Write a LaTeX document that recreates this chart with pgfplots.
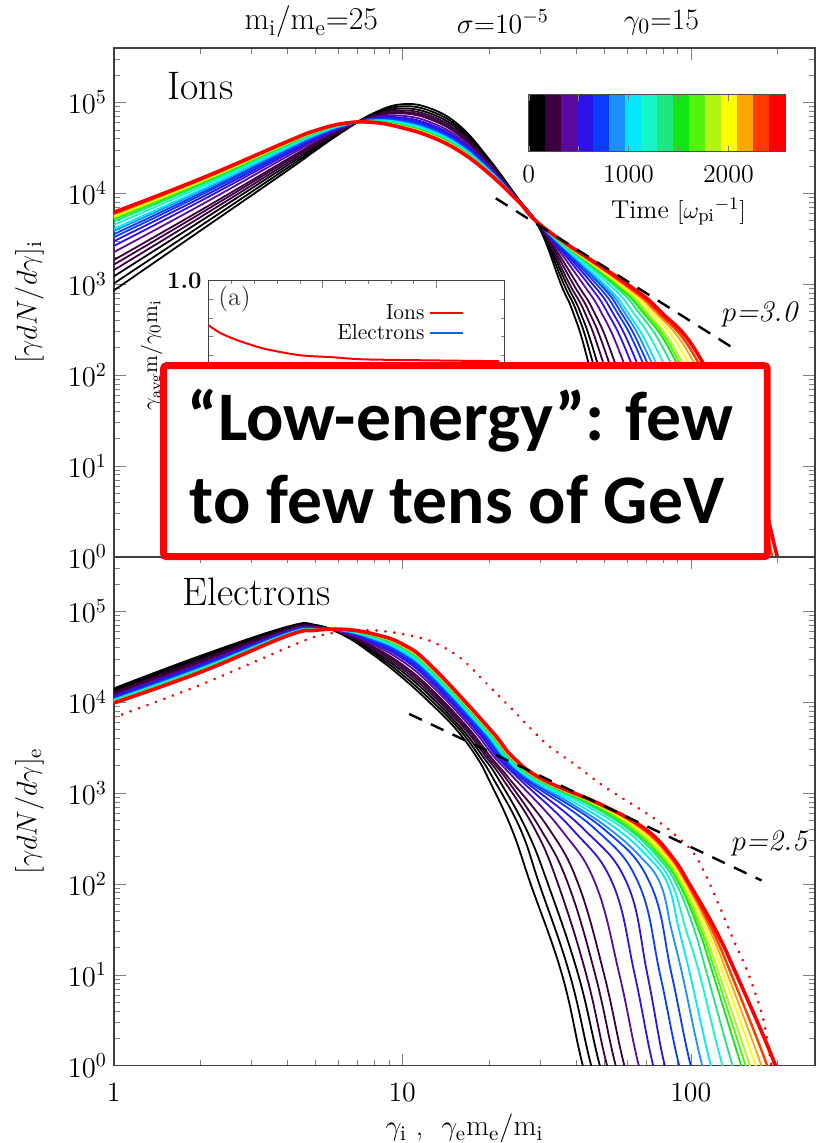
\documentclass[border=0pt]{standalone}
\usepackage{pgfplots}
\pgfplotsset{compat=1.18}
\usepackage{fontspec}
\newfontfamily\calib{Carlito}
\usetikzlibrary{calc}

% discrete time colour table (16 bands, 0--2570)
\definecolor{c0}{HTML}{000000}
\definecolor{c1}{HTML}{3A0040}
\definecolor{c2}{HTML}{5A0AA0}
\definecolor{c3}{HTML}{2A12E8}
\definecolor{c4}{HTML}{0A3CFF}
\definecolor{c5}{HTML}{1A90FF}
\definecolor{c6}{HTML}{00E8FF}
\definecolor{c7}{HTML}{14F5C8}
\definecolor{c8}{HTML}{1EE682}
\definecolor{c9}{HTML}{10E610}
\definecolor{c10}{HTML}{50F50A}
\definecolor{c11}{HTML}{B0F514}
\definecolor{c12}{HTML}{FFFF00}
\definecolor{c13}{HTML}{FFA500}
\definecolor{c14}{HTML}{FF3C00}
\definecolor{c15}{HTML}{FF0000}
\definecolor{elec}{HTML}{1060FF}

\tikzset{
  cv/.style={smooth, tension=0.7, line width=0.9bp},
  dsh/.style={black, line width=1.2bp, dash pattern=on 7bp off 5bp},
}

\begin{document}
\begin{tikzpicture}
% ---------------- ions ----------------
\begin{axis}[name=top, xmode=log, ymode=log, scale only axis, width=351.5bp, height=255bp,
    xmin=1, xmax=270, ymin=1, ymax=398000,
    tick align=inside, major tick length=6bp, minor tick length=3bp,
    xtick={1,10,100}, xticklabels={,,},
    minor xtick={2,3,4,5,6,7,8,9,20,30,40,50,60,70,80,90,200},
    ytick={1,10,100,1000,10000,100000},
    minor ytick={2,3,4,5,6,7,8,9,20,30,40,50,60,70,80,90,200,300,400,500,600,700,800,900,2000,3000,4000,5000,6000,7000,8000,9000,20000,30000,40000,50000,60000,70000,80000,90000,200000,300000},
    tick label style={font=\fontsize{14}{16}\selectfont},
    axis line style={line width=0.8bp, black!75},
    ylabel style={font=\fontsize{15}{17}\selectfont, at={(axis description cs:-0.12,0.5)}, anchor=center, inner sep=0pt},
    ylabel={$[\gamma dN/d\gamma]_{\rm i}$}]
\addplot[cv,c0] coordinates {(1,851)(2,3890)(4,17780)(5,29510)(6.31,48980)(7.94,75860)(10,95500)(12.6,85110)(15.85,54950)(19.95,23990)(25.1,8913)(30.06,3981)(35.48,1000)(39.0,501)(43.65,158.5)(53.70,10)(60.26,1)(66.0,0.25)};
\addplot[cv,c0] coordinates {(1,1016)(2,4375)(4,19010)(5,30900)(6.31,49770)(7.94,74300)(10,90570)(12.6,79800)(15.85,51880)(19.95,23230)(25.1,8851)(30.20,3981)(36.31,1000)(40.18,501)(45.19,158.5)(56.62,10)(64.12,1)(70.3,0.25)};
\addplot[cv,c0] coordinates {(1,1216)(2,4932)(4,20320)(5,32360)(6.31,50580)(7.94,72780)(10,85700)(12.6,74820)(15.85,48980)(19.95,22440)(25.1,8810)(30.34,3981)(37.15,1000)(41.30,501)(46.77,158.5)(59.70,10)(68.08,1)(74.6,0.25)};
\addplot[cv,c1] coordinates {(1,1426)(2,5470)(4,21530)(5,33650)(6.31,51400)(7.94,71450)(10,81660)(12.6,70630)(15.85,46450)(19.95,21780)(25.1,8750)(30.48,3981)(38.02,1000)(42.76,501)(48.98,158.5)(63.53,10)(72.94,1)(79.9,0.25)};
\addplot[cv,c1] coordinates {(1,1637)(2,5998)(4,22700)(5,34910)(6.31,52000)(7.94,70310)(10,78340)(12.6,67300)(15.85,44460)(19.95,21230)(25.1,8710)(30.55,3981)(39.17,1000)(44.36,501)(51.29,158.5)(67.61,10)(78.16,1)(85.7,0.25)};
\addplot[cv,c1] coordinates {(1,1841)(2,6486)(4,23710)(5,35970)(6.31,52600)(7.94,69340)(10,75680)(12.6,64420)(15.85,42760)(19.95,20800)(25.1,8670)(30.69,3981)(40.46,1000)(46.13,501)(53.70,158.5)(71.61,10)(83.37,1)(91.4,0.25)};
\addplot[cv,c2] coordinates {(1,2244)(2,7396)(4,25530)(5,37840)(6.31,53580)(7.94,67760)(10,71290)(12.6,59980)(15.85,40090)(19.95,20040)(25.1,8610)(30.83,3981)(42.36,1000)(48.75,501)(57.54,158.5)(78.34,10)(92.04,1)(100.9,0.25)};
\addplot[cv,c3] coordinates {(1,2630)(2,8222)(4,27040)(5,39360)(6.31,54450)(7.94,66530)(10,67920)(12.6,56620)(15.85,38020)(19.95,19450)(25.1,8570)(30.97,3981)(44.16,1000)(51.17,501)(60.95,158.5)(84.33,10)(99.77,1)(109.3,0.25)};
\addplot[cv,c3] coordinates {(1,2965)(2,8892)(4,28310)(5,40640)(6.31,54950)(7.94,65610)(10,65460)(12.6,54330)(15.85,36640)(19.95,19010)(25.1,8530)(31.05,3981)(45.71,1000)(53.33,501)(63.83,158.5)(89.54,10)(106.4,1)(116.6,0.25)};
\addplot[cv,c4] coordinates {(1,3273)(2,9506)(4,29380)(5,41690)(6.31,55460)(7.94,64860)(10,63530)(12.6,52360)(15.85,35480)(19.95,18660)(25.1,8510)(31.12,3981)(47.10,1000)(55.34,501)(66.83,158.5)(94.62,10)(113.0,1)(123.8,0.25)};
\addplot[cv,c4] coordinates {(1,3540)(2,10000)(4,30200)(5,42460)(6.31,55980)(7.94,64270)(10,62090)(12.6,50930)(15.85,34510)(19.95,18410)(25.1,8470)(31.19,3981)(48.42,1000)(57.02,501)(69.18,158.5)(98.86,10)(118.6,1)(130.0,0.25)};
\addplot[cv,c5] coordinates {(1,3837)(2,10540)(4,31120)(5,43350)(6.31,56360)(7.94,63680)(10,60530)(12.6,49430)(15.85,33650)(19.95,18110)(25.1,8450)(31.26,3981)(49.32,1000)(58.61,501)(71.61,158.5)(103.0,10)(123.9,1)(135.8,0.25)};
\addplot[cv,c6] coordinates {(1,4064)(2,10960)(4,31840)(5,44060)(6.31,56620)(7.94,63240)(10,59570)(12.6,48420)(15.85,33040)(19.95,17950)(25.1,8430)(31.26,3981)(50.23,1000)(60.12,501)(74.13,158.5)(107.4,10)(129.7,1)(142.2,0.25)};
\addplot[cv,c7] coordinates {(1,4487)(2,11720)(4,33040)(5,45190)(6.31,57150)(7.94,62520)(10,57810)(12.6,46770)(15.85,31990)(19.95,17620)(25.1,8414)(31.33,3981)(52.00,1000)(62.81,501)(78.52,158.5)(115.1,10)(139.6,1)(153.0,0.25)};
\addplot[cv,c8] coordinates {(1,4864)(2,12360)(4,34040)(5,46130)(6.31,57540)(7.94,61940)(10,56360)(12.6,45390)(15.85,31190)(19.95,17340)(25.1,8395)(31.41,3981)(53.58,1000)(65.61,501)(83.18,158.5)(122.7,10)(149.3,1)(163.6,0.25)};
\addplot[cv,c9] coordinates {(1,5164)(2,12850)(4,34750)(5,46770)(6.31,57940)(7.94,61520)(10,55340)(12.6,44460)(15.85,30550)(19.95,17140)(25.1,8375)(31.48,3981)(54.70,1000)(67.76,501)(87.10,158.5)(129.4,10)(157.8,1)(172.9,0.25)};
\addplot[cv,c10] coordinates {(1,5309)(2,13090)(4,35160)(5,47100)(6.31,58080)(7.94,61380)(10,54950)(12.6,43950)(15.85,30270)(19.95,17060)(25.1,8356)(31.48,3981)(55.59,1000)(69.02,501)(89.13,158.5)(132.7,10)(162.2,1)(177.8,0.25)};
\addplot[cv,c11] coordinates {(1,5470)(2,13370)(4,35560)(5,47530)(6.31,58210)(7.94,61090)(10,54450)(12.6,43550)(15.85,29990)(19.95,16980)(25.1,8356)(31.55,3981)(56.10,1000)(70.15,501)(91.20,158.5)(136.5,10)(167.1,1)(183.1,0.25)};
\addplot[cv,c12] coordinates {(1,5636)(2,13610)(4,35970)(5,47860)(6.31,58340)(7.94,60950)(10,53950)(12.6,43050)(15.85,29720)(19.95,16870)(25.1,8337)(31.55,3981)(57.15,1000)(72.44,501)(95.50,158.5)(143.2,10)(175.4,1)(192.2,0.25)};
\addplot[cv,c13] coordinates {(1,5808)(2,13900)(4,36310)(5,48190)(6.31,58610)(7.94,60670)(10,53460)(12.6,42560)(15.85,29380)(19.95,16790)(25.1,8337)(31.55,3981)(58.21,1000)(74.64,501)(100,158.5)(150.3,10)(184.5,1)(202.2,0.25)};
\addplot[cv,c14,line width=1.2bp] coordinates {(1,5984)(2,14160)(4,36730)(5,48640)(6.31,58750)(7.94,60530)(10,52970)(12.6,42170)(15.85,29110)(19.95,16670)(25.1,8318)(31.62,3981)(58.88,1000)(76.38,501)(103.5,158.5)(156.3,10)(191.9,1)(210.3,0.25)};
\addplot[cv,c15,line width=1.8bp] coordinates {(1,6166)(2,14450)(4,37150)(5,48980)(6.31,58880)(7.94,60260)(10,52480)(12.6,41690)(15.85,28840)(19.95,16600)(25.1,8318)(31.62,3981)(60.26,1000)(78.52,501)(107.2,158.5)(162.2,10)(199.5,1)(218.7,0.25)};
% power law p = 3.0
\addplot[dsh] coordinates {(21.1,8810)(138.6,203)};
\end{axis}

% ---------------- electrons ----------------
\begin{axis}[name=bot, at={(top.south west)}, anchor=north west,
    xmode=log, ymode=log, scale only axis, width=351.5bp, height=255bp,
    xmin=1, xmax=270, ymin=1, ymax=398000,
    tick align=inside, major tick length=6bp, minor tick length=3bp,
    xtick={1,10,100}, xticklabels={1,10,100},
    minor xtick={2,3,4,5,6,7,8,9,20,30,40,50,60,70,80,90,200},
    ytick={1,10,100,1000,10000,100000},
    minor ytick={2,3,4,5,6,7,8,9,20,30,40,50,60,70,80,90,200,300,400,500,600,700,800,900,2000,3000,4000,5000,6000,7000,8000,9000,20000,30000,40000,50000,60000,70000,80000,90000,200000,300000},
    tick label style={font=\fontsize{14}{16}\selectfont},
    xticklabel style={yshift=-5bp},
    axis line style={line width=0.8bp, black!75},
    ylabel style={font=\fontsize{15}{17}\selectfont, at={(axis description cs:-0.12,0.5)}, anchor=center, inner sep=0pt},
    xlabel style={font=\fontsize{15}{17}\selectfont, at={(axis description cs:0.5,-0.124)}, anchor=center, inner sep=0pt},
    xlabel={$\gamma_{\rm i}$\ ,\ \ $\gamma_{\rm e}{\rm m_e/m_i}$},
    ylabel={$[\gamma dN/d\gamma]_{\rm e}$}]
\addplot[cv,c0] coordinates {(1,14130)(2,32360)(4,67610)(5,70790)(6.31,53700)(7.94,33110)(10,18620)(12.6,9550)(15.38,5012)(18.07,2512)(19.95,1413)(23.99,398)(27.86,100)(35.81,10)(42.27,1)(48.5,0.25)};
\addplot[cv,c0] coordinates {(1,13680)(2,31190)(4,66220)(5,69980)(6.31,54450)(7.94,34750)(10,20090)(12.6,10420)(15.78,5012)(18.54,2512)(20.75,1413)(25.70,398)(29.85,100)(38.11,10)(45.19,1)(51.9,0.25)};
\addplot[cv,c0] coordinates {(1,13210)(2,30060)(4,64860)(5,69020)(6.31,55340)(7.94,36390)(10,21730)(12.6,11380)(16.14,5012)(19.05,2512)(21.58,1413)(26.92,398)(31.99,100)(40.74,10)(48.42,1)(55.6,0.25)};
\addplot[cv,c1] coordinates {(1,12820)(2,29040)(4,63680)(5,68230)(6.31,55980)(7.94,38020)(10,23230)(12.6,12270)(16.52,5012)(19.50,2512)(22.34,1413)(28.84,398)(34.67,100)(43.45,10)(51.29,1)(58.9,0.25)};
\addplot[cv,c1] coordinates {(1,12500)(2,28250)(4,62660)(5,67610)(6.31,56620)(7.94,39450)(10,24660)(12.6,13150)(16.83,5012)(19.86,2512)(23.01,1413)(30.20,398)(37.58,100)(46.67,10)(54.95,1)(63.1,0.25)};
\addplot[cv,c1] coordinates {(1,12250)(2,27540)(4,61800)(5,67140)(6.31,57150)(7.94,40740)(10,25940)(12.6,13930)(17.10,5012)(20.23,2512)(23.60,1413)(32.36,398)(40.74,100)(50.12,10)(58.88,1)(67.6,0.25)};
\addplot[cv,c2] coordinates {(1,11800)(2,26420)(4,60390)(5,66220)(6.31,58080)(7.94,42950)(10,28250)(12.6,15350)(17.58,5012)(20.80,2512)(24.66,1413)(35.48,398)(46.77,100)(56.62,10)(66.07,1)(75.9,0.25)};
\addplot[cv,c3] coordinates {(1,11460)(2,25530)(4,59290)(5,65460)(6.31,58880)(7.94,44770)(10,30270)(12.6,16560)(17.95,5012)(21.28,2512)(25.53,1413)(38.90,398)(53.70,100)(63.97,10)(74.13,1)(85.1,0.25)};
\addplot[cv,c3] coordinates {(1,11190)(2,24950)(4,58480)(5,64860)(6.31,59430)(7.94,46240)(10,31840)(12.6,17580)(18.24,5012)(21.68,2512)(26.18,1413)(42.66,398)(60.26,100)(70.79,10)(81.28,1)(93.3,0.25)};
\addplot[cv,c4] coordinates {(1,10990)(2,24430)(4,57810)(5,64420)(6.31,59980)(7.94,47420)(10,33270)(12.6,18450)(18.49,5012)(21.98,2512)(26.73,1413)(46.77,398)(66.07,100)(78.34,10)(91.20,1)(104.7,0.25)};
\addplot[cv,c4] coordinates {(1,10840)(2,23990)(4,57280)(5,64120)(6.31,60260)(7.94,48530)(10,34360)(12.6,19140)(18.71,5012)(22.23,2512)(27.23,1413)(50.12,398)(72.44,100)(85.90,10)(100,1)(114.8,0.25)};
\addplot[cv,c5] coordinates {(1,10670)(2,23600)(4,56750)(5,63680)(6.31,60670)(7.94,49550)(10,35560)(12.6,19910)(18.92,5012)(22.49,2512)(27.67,1413)(39.17,741)(52.48,398)(66.83,200)(78.52,100)(85.70,31.62)(93.54,10)(109.6,1)(125.8,0.25)};
\addplot[cv,c6] coordinates {(1,10570)(2,23330)(4,56360)(5,63530)(6.31,60950)(7.94,50350)(10,36480)(12.6,20510)(19.05,5012)(22.70,2512)(28.05,1413)(40.83,741)(55.59,398)(70.79,200)(83.18,100)(90.99,31.62)(99.54,10)(117.5,1)(134.9,0.25)};
\addplot[cv,c7] coordinates {(1,10380)(2,22860)(4,55720)(5,63100)(6.31,61520)(7.94,51640)(10,38110)(12.6,21530)(19.32,5012)(23.01,2512)(28.64,1413)(42.76,741)(58.88,398)(73.96,200)(86.10,100)(96.16,31.62)(107.4,10)(128.8,1)(147.9,0.25)};
\addplot[cv,c8] coordinates {(1,10210)(2,22490)(4,55210)(5,62660)(6.31,61940)(7.94,52720)(10,39450)(12.6,22390)(19.54,5012)(23.28,2512)(29.17,1413)(44.46,741)(60.95,398)(76.56,200)(89.13,100)(102.7,31.62)(114.0,10)(139.6,1)(160.3,0.25)};
\addplot[cv,c9] coordinates {(1,10090)(2,22180)(4,54830)(5,62370)(6.31,62230)(7.94,53580)(10,40460)(12.6,23010)(19.68,5012)(23.50,2512)(29.51,1413)(45.71,741)(62.37,398)(78.34,200)(91.20,100)(106.4,31.62)(119.7,10)(149.6,1)(171.7,0.25)};
\addplot[cv,c10] coordinates {(1,10050)(2,22080)(4,54700)(5,62370)(6.31,62370)(7.94,54080)(10,40930)(12.6,23330)(19.77,5012)(23.60,2512)(29.72,1413)(46.34,741)(63.10,398)(79.25,200)(92.26,100)(108.4,31.62)(122.7,10)(154.9,1)(177.8,0.25)};
\addplot[cv,c11] coordinates {(1,10000)(2,21930)(4,54450)(5,62230)(6.31,62520)(7.94,54450)(10,41500)(12.6,23710)(19.86,5012)(23.71,2512)(29.92,1413)(47.21,741)(64.57,398)(80.54,200)(93.33,100)(110.3,31.62)(125.6,10)(160.3,1)(184.0,0.25)};
\addplot[cv,c12] coordinates {(1,9931)(2,21780)(4,54330)(5,62090)(6.31,62660)(7.94,54950)(10,41980)(12.6,24040)(19.95,5012)(23.77,2512)(30.13,1413)(48.19,741)(66.07,398)(82.22,200)(95.06,100)(113.2,31.62)(130.0,10)(167.9,1)(192.8,0.25)};
\addplot[cv,c13] coordinates {(1,9886)(2,21630)(4,54080)(5,61940)(6.31,62810)(7.94,55340)(10,42560)(12.6,24380)(20.0,5012)(23.88,2512)(30.27,1413)(48.64,741)(67.61,398)(83.75,200)(96.61,100)(116.0,31.62)(134.3,10)(175.8,1)(201.8,0.25)};
\addplot[cv,c14,line width=1.2bp] coordinates {(1,9817)(2,21530)(4,53950)(5,61800)(6.31,62950)(7.94,55850)(10,43050)(12.6,24770)(20.09,5012)(23.99,2512)(30.48,1413)(48.87,741)(68.71,398)(84.92,200)(97.72,100)(118.4,31.62)(138.4,10)(184.1,1)(211.3,0.25)};
\addplot[cv,c15,line width=1.8bp] coordinates {(1,9772)(2,21380)(4,53700)(5,61660)(6.31,63100)(7.94,56230)(10,43650)(12.6,25120)(20.18,5012)(24.10,2512)(30.69,1413)(49.09,741)(69.82,398)(86.00,200)(98.86,100)(121.6,31.62)(144.2,10)(196.8,1)(225.9,0.25)};
% reference spectrum (dotted)
\addplot[smooth, red, line width=1.5bp, line cap=round, dash pattern=on 0.01bp off 4.5bp] coordinates {(1,6761)(2,15490)(4,39810)(5,52480)(6.31,60260)(7.94,61660)(10,56230)(12.6,46770)(15.85,30900)(19.95,15140)(25.1,7244)(31.6,3467)(39.8,2042)(50.1,1175)(63.1,741)(79.4,457)(100,240)(112.2,129)(125.9,56.2)(141.3,23.4)(158.5,10.2)(177.8,3.39)(190.5,1)(199.5,0.4)};
% power law p = 2.5
\addplot[dsh] coordinates {(10.57,7413)(176,109)};
\end{axis}

\coordinate (O) at ($(top.north west)+(-57bp,24bp)$);
\path[use as bounding box] (O) rectangle ($(O)+(411.5bp,-571.5bp)$);

\begin{scope}[shift={(O)}, x=0.5bp, y=-0.5bp]
  \coordinate (insetNW) at (209,281);
  \coordinate (cbarNW) at (530,95);
  \node[font=\fontsize{16}{18}\selectfont] at (312,22) {m$_{\rm i}$/m$_{\rm e}$=25};
  \node[font=\fontsize{14}{16}\selectfont] at (504,22) {$\sigma$=10$^{-5}$};
  \node[font=\fontsize{15}{17}\selectfont] at (663,22) {$\gamma_{0}$=15};
  \node[anchor=west, font=\fontsize{20}{22}\selectfont] at (161,86) {Ions};
  \node[anchor=west, font=\fontsize{20}{22}\selectfont] at (176,593) {Electrons};
  \node[font=\fontsize{15}{17}\selectfont] at (762,315) {$p$\textit{=3.0}};
  \node[font=\fontsize{15}{17}\selectfont] at (772,845) {$p$\textit{=2.5}};
  \node[font=\fontsize{13}{15}\selectfont] at (680,212) {Time $[\omega_{\rm pi}{}^{-1}]$};
\end{scope}

% ---------------- inset (a) ----------------
\begin{axis}[name=inset, at={(insetNW)}, anchor=north west, scale only axis,
  width=148.5bp, height=75bp, xmin=0, xmax=2600, ymin=0.2, ymax=1.0,
  ytick={0.5,1.0}, yticklabels={0.5,1.0}, minor y tick num=4,
  xtick={0,1000,2000}, xticklabels={,,}, minor x tick num=4,
  tick align=inside, major tick length=4bp, minor tick length=2bp,
  axis line style={line width=0.6bp, black!75},
  yticklabel style={font=\fontsize{12}{14}\selectfont\bfseries},
  ylabel={$\gamma_{\rm avg}{\rm m}/\gamma_{0}{\rm m_i}$},
  ylabel style={font=\fontsize{11}{12}\selectfont, at={(axis description cs:-0.19,0.5)}, anchor=center},
  legend style={draw=none, fill=none, at={(0.865,0.87)}, anchor=north east,
    font=\fontsize{11}{12}\selectfont, row sep=-3bp, inner sep=0pt},
  legend plot pos=right, legend cell align=right,
]
\addplot[red, line width=1bp, smooth] coordinates {(0,0.76)(100,0.72)(210,0.69)(350,0.66)(508,0.632)(800,0.60)(1090,0.589)(1350,0.578)(1850,0.573)(2550,0.568)};
\addlegendentry{Ions}
\addlegendimage{elec, line width=1bp}
\addlegendentry{Electrons}
\end{axis}

% ---------------- colour bar ----------------
\begin{axis}[name=cbar, at={(cbarNW)}, anchor=north west, scale only axis,
  width=128.5bp, height=28.5bp, xmin=0, xmax=2570, ymin=0, ymax=1,
  ytick=\empty, xtick={0,500,1000,1500,2000}, xticklabels={0,,1000,,2000},
  xticklabel pos=lower, tick align=inside, major tick length=3bp,
  axis on top, axis line style={line width=0.6bp, black!70},
  xticklabel style={font=\fontsize{13}{15}\selectfont, yshift=-3.5bp},
]
\addplot[fill=c0, draw=none] coordinates {(0,1)(160.6,1)} \closedcycle;
\addplot[fill=c1, draw=none] coordinates {(160.6,1)(321.3,1)} \closedcycle;
\addplot[fill=c2, draw=none] coordinates {(321.3,1)(481.9,1)} \closedcycle;
\addplot[fill=c3, draw=none] coordinates {(481.9,1)(642.5,1)} \closedcycle;
\addplot[fill=c4, draw=none] coordinates {(642.5,1)(803.1,1)} \closedcycle;
\addplot[fill=c5, draw=none] coordinates {(803.1,1)(963.8,1)} \closedcycle;
\addplot[fill=c6, draw=none] coordinates {(963.8,1)(1124.4,1)} \closedcycle;
\addplot[fill=c7, draw=none] coordinates {(1124.4,1)(1285,1)} \closedcycle;
\addplot[fill=c8, draw=none] coordinates {(1285,1)(1445.6,1)} \closedcycle;
\addplot[fill=c9, draw=none] coordinates {(1445.6,1)(1606.3,1)} \closedcycle;
\addplot[fill=c10, draw=none] coordinates {(1606.3,1)(1766.9,1)} \closedcycle;
\addplot[fill=c11, draw=none] coordinates {(1766.9,1)(1927.5,1)} \closedcycle;
\addplot[fill=c12, draw=none] coordinates {(1927.5,1)(2088.1,1)} \closedcycle;
\addplot[fill=c13, draw=none] coordinates {(2088.1,1)(2248.8,1)} \closedcycle;
\addplot[fill=c14, draw=none] coordinates {(2248.8,1)(2409.4,1)} \closedcycle;
\addplot[fill=c15, draw=none] coordinates {(2409.4,1)(2570,1)} \closedcycle;
\end{axis}

% ---------------- callout ----------------
\begin{scope}[shift={(O)}, x=0.5bp, y=-0.5bp]
  \node[font=\fontsize{13}{15}\selectfont, text=black!80] at (235,300) {(a)};
  \draw[red, line width=3.5bp, fill=white, rounded corners=1.5bp] (164,366.5) rectangle (769,558);
  \node[anchor=base west, inner sep=0pt] at (188,442) {\calib\bfseries\fontsize{35}{40}\selectfont “Low-energy”: few};
  \node[anchor=base west, inner sep=0pt] at (190,525) {\calib\bfseries\fontsize{35}{40}\selectfont to few tens of GeV};
\end{scope}
\end{tikzpicture}
\end{document}
